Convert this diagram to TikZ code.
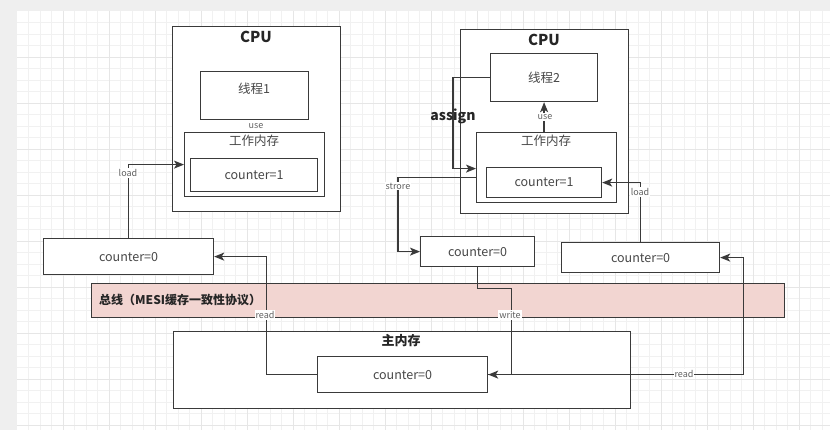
\documentclass[tikz,border=0pt]{standalone}
\usepackage{fontspec}
\setmainfont{Noto Sans CJK SC}
\usetikzlibrary{arrows.meta,calc}
\definecolor{ln}{HTML}{3A3A3A}
\definecolor{busfill}{HTML}{F2D5D1}
\definecolor{bgc}{HTML}{EFEFEF}
\definecolor{gridc}{HTML}{F1F1F1}
\definecolor{gridm}{HTML}{E6E6E6}
\begin{document}
\begin{tikzpicture}[x=1pt,y=-1pt,
  box/.style={draw=ln, line width=1.2pt, fill=white, rectangle, anchor=north west, inner sep=0pt},
  txt/.style={text=black!72, font=\fontsize{12.5}{14}\selectfont, inner sep=0pt},
  ttl/.style={text=black!85, font=\bfseries\fontsize{15}{17}\selectfont, inner sep=0pt},
  lbl/.style={fill=white, text=black!62, font=\fontsize{9}{10}\selectfont, inner sep=1pt},
  conn/.style={draw=ln, line width=1.3pt, -{Stealth[length=10pt,width=8pt,inset=2.5pt]}},
  ]
\useasboundingbox (0,0) rectangle (830,430);
\fill[bgc] (0,0) rectangle (830,430);
\fill[white] (17,11) rectangle (830,430);
\foreach \i in {1,...,70} {
  \pgfmathsetmacro\xx{17+11.5*\i}
  \draw[gridc,line width=0.6pt] (\xx,11) -- (\xx,430);
}
\foreach \i in {1,...,37} {
  \pgfmathsetmacro\yy{11+11.5*\i}
  \draw[gridc,line width=0.6pt] (17,\yy) -- (830,\yy);
}
\foreach \i in {1,...,17} {
  \pgfmathsetmacro\xx{17+46*\i}
  \draw[gridm,line width=0.6pt] (\xx,11) -- (\xx,430);
}
\foreach \i in {1,...,9} {
  \pgfmathsetmacro\yy{11+46*\i}
  \draw[gridm,line width=0.6pt] (17,\yy) -- (830,\yy);
}

% CPU 1
\node[box, minimum width=168pt, minimum height=185pt] (cpu1) at (172,26) {};
\node[ttl] (cpu1t) at (256,37) {CPU};
\node[box, minimum width=108pt, minimum height=48pt] (t1) at (200,71) {};
\node[txt] (t1t) at (254,89) {线程1};
\node[lbl] (use1) at (256,126) {use};
\node[box, minimum width=140pt, minimum height=64pt] (wm1) at (184,132) {};
\node[txt] (wm1t) at (254,141) {工作内存};
\node[box, minimum width=127pt, minimum height=33pt] (c1) at (190,158) {};
\node[txt] at (c1.center) {counter=1};

% CPU 2
\node[box, minimum width=168pt, minimum height=184pt] (cpu2) at (460,29) {};
\node[ttl] (cpu2t) at (544,40) {CPU};
\node[box, minimum width=107pt, minimum height=48pt] (t2) at (490,53) {};
\node[txt] (t2t) at (544,78) {线程2};
\node[box, minimum width=140pt, minimum height=70pt] (wm2) at (476,132) {};
\node[txt] (wm2t) at (546,141) {工作内存};
\node[box, minimum width=115pt, minimum height=30pt] (c2) at (486,167) {};
\node[txt] at (c2.center) {counter=1};

% local copies
\node[box, minimum width=170pt, minimum height=36pt] (lc0) at (43,238) {};
\node[txt] at (lc0.center) {counter=0};
\node[box, minimum width=114pt, minimum height=30pt] (mid0) at (420,236) {};
\node[txt] at (mid0.center) {counter=0};
\node[box, minimum width=158pt, minimum height=30pt] (r0) at (561,242) {};
\node[txt] at (r0.center) {counter=0};

% bus
\node[box, fill=busfill, minimum width=693pt, minimum height=34pt] (bus) at (91,283) {};
\node[ttl, anchor=west, font=\bfseries\fontsize{12}{14}\selectfont] (bust) at (99,300) {总线（MESI缓存一致性协议）};

% main memory
\node[box, minimum width=457pt, minimum height=77pt] (mm) at (173,331) {};
\node[ttl, font=\bfseries\fontsize{13}{15}\selectfont] (mmt) at (401,341) {主内存};
\node[box, minimum width=170pt, minimum height=36pt] (mc0) at (317,356) {};
\node[txt] at (mc0.center) {counter=0};

% connectors
\draw[conn] (lc0.north) |- (wm1.west);
\node[lbl] (load1) at (128,173) {load};

\draw[conn] (mc0.west) -| ($(lc0.east)+(52,0)$) -- (lc0.east);
\node[lbl] (read1) at (265,315) {read};

\draw[conn] (t2.west) -| ($(wm2.west)+(-23,1)$) -- ($(wm2.west)+(0,1)$);
\node[ttl, font=\bfseries\fontsize{14}{16}\selectfont] (assign) at (453,116) {assign};

\draw[conn] ($(wm2.west)+(0,10)$) -| ($(mid0.west)+(-22,0)$) -- (mid0.west);
\node[lbl] (strore) at (398,186) {strore};

\draw[conn] (t2.south |- wm2.north) -- (t2.south);
\node[lbl] (use2) at (545,117) {use};

\draw[conn] (r0.north) |- (c2.east);
\node[lbl] (load2) at (640,192) {load};

\draw[conn] (mid0.south) -- ++(0,21) -| ($(mc0.east)+(23,0)$) -- (mc0.east);
\node[lbl] (write) at (510,315) {write};

\draw[conn] (mc0.east) -| ($(r0.east)+(23,0)$) -- (r0.east);
\node[lbl] (read2) at (684,374) {read};
\end{tikzpicture}
\end{document}
